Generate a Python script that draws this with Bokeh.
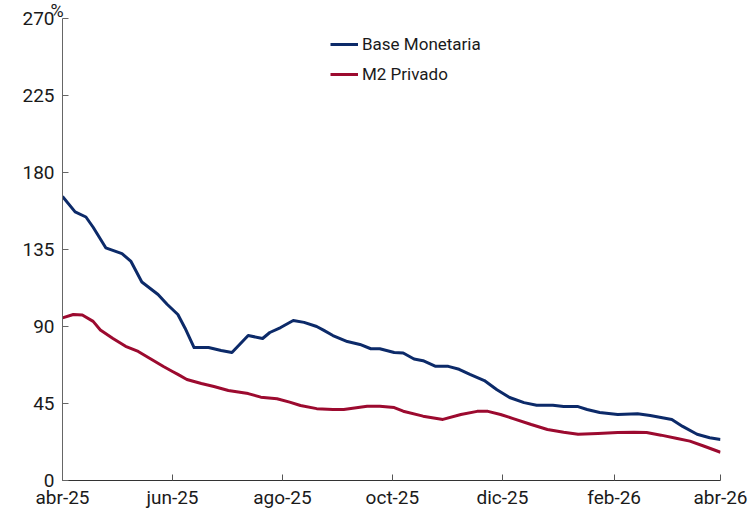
import pandas as pd
from bokeh.plotting import figure
from bokeh.models import FixedTicker, Range1d, Legend, LegendItem, ColumnDataSource
from bokeh.embed import file_html
from bokeh.resources import INLINE

# ---- data ----
base_dates = ["2025-04-01", "2025-04-08", "2025-04-14", "2025-04-18", "2025-04-25", "2025-05-04",
              "2025-05-09", "2025-05-15", "2025-05-24", "2025-05-29", "2025-06-04", "2025-06-08",
              "2025-06-13", "2025-06-21", "2025-06-28", "2025-07-04", "2025-07-13", "2025-07-21",
              "2025-07-25", "2025-07-31", "2025-08-07", "2025-08-13", "2025-08-20", "2025-08-24",
              "2025-08-29", "2025-09-06", "2025-09-13", "2025-09-19", "2025-09-24", "2025-10-02",
              "2025-10-07", "2025-10-13", "2025-10-18", "2025-10-25", "2025-11-01", "2025-11-07",
              "2025-11-13", "2025-11-21", "2025-11-28", "2025-12-05", "2025-12-13", "2025-12-20",
              "2025-12-29", "2026-01-04", "2026-01-12", "2026-01-17", "2026-01-24", "2026-02-03",
              "2026-02-14", "2026-02-21", "2026-02-27", "2026-03-05", "2026-03-11", "2026-03-19",
              "2026-03-26", "2026-04-01"]
base_values = [166, 157, 154, 148, 136, 132.6,
               128, 116, 108.7, 103, 97, 89,
               77.7, 77.7, 76, 74.8, 84.7, 83,
               86.5, 89.4, 93.5, 92.4, 90, 87.7,
               84.7, 81.2, 79.5, 77, 77, 74.8,
               74.5, 71, 70, 66.7, 66.7, 65,
               62, 58.4, 53, 48.5, 45.5, 44,
               44, 43.2, 43.2, 41.5, 39.7, 38.6,
               39, 38, 36.8, 35.7, 31.6, 27,
               25, 24]

m2_dates = ["2025-04-01", "2025-04-07", "2025-04-12", "2025-04-18", "2025-04-22", "2025-04-29",
            "2025-05-06", "2025-05-13", "2025-05-20", "2025-05-27", "2025-06-01", "2025-06-04",
            "2025-06-09", "2025-06-17", "2025-06-24", "2025-07-02", "2025-07-13", "2025-07-20",
            "2025-07-29", "2025-08-05", "2025-08-11", "2025-08-20", "2025-08-29", "2025-09-04",
            "2025-09-12", "2025-09-17", "2025-09-24", "2025-10-02", "2025-10-07", "2025-10-18",
            "2025-10-29", "2025-11-08", "2025-11-17", "2025-11-23", "2025-11-30", "2025-12-07",
            "2025-12-17", "2025-12-26", "2026-01-04", "2026-01-12", "2026-01-23", "2026-02-03",
            "2026-02-12", "2026-02-19", "2026-02-27", "2026-03-08", "2026-03-15", "2026-03-23",
            "2026-04-01"]
m2_values = [95, 97, 96.7, 93, 88, 83,
             78.4, 75.4, 71, 66.6, 63.7, 62,
             59, 56.7, 54.9, 52.6, 50.8, 48.7,
             47.8, 45.8, 43.8, 42, 41.5, 41.5,
             42.6, 43.4, 43.4, 42.6, 40.5, 37.6,
             35.7, 38.6, 40.4, 40.4, 38.6, 36.2,
             32.7, 29.8, 28.2, 27, 27.5, 28,
             28.2, 28, 26.5, 24.5, 23, 20,
             16.5]

tick_dates = ["2025-04-01", "2025-06-01", "2025-08-01", "2025-10-01", "2025-12-01", "2026-02-01", "2026-04-01"]
tick_labels = ["abr-25", "jun-25", "ago-25", "oct-25", "dic-25", "feb-26", "abr-26"]
y_ticks = [0, 45, 90, 135, 180, 225, 270]
unit_label = "%"

series_names = ["Base Monetaria", "M2 Privado"]
series_colors = ["#0c2a69", "#9c0a2f"]

FONT = "Roboto"
TXT = "#1a1a1a"

def ms(d):
    return pd.Timestamp(d).value // 10**6

p = figure(x_axis_type="datetime", output_backend="svg", toolbar_location=None,
           frame_width=658, frame_height=462,
           min_border_left=62, min_border_top=0, min_border_right=28, min_border_bottom=26,
           x_range=Range1d(ms(tick_dates[0]), ms(tick_dates[-1])),
           y_range=Range1d(0, 270))
p.outline_line_color = None
p.xgrid.visible = False
p.ygrid.visible = False
p.background_fill_color = "white"
p.border_fill_color = "white"

# "%" unit label as a left-aligned title just above the y axis
p.title.text = unit_label
p.title.align = "left"
p.title.offset = -12
p.title.standoff = -5
p.title.text_font = FONT
p.title.text_font_size = "18px"
p.title.text_font_style = "normal"
p.title.text_color = TXT
p.title.vertical_align = "bottom"

src_b = ColumnDataSource(dict(x=pd.to_datetime(base_dates), y=base_values))
src_m = ColumnDataSource(dict(x=pd.to_datetime(m2_dates), y=m2_values))
r1 = p.line("x", "y", source=src_b, line_color=series_colors[0], line_width=3, line_join="round")
r2 = p.line("x", "y", source=src_m, line_color=series_colors[1], line_width=3, line_join="round")

# axes
xt = [ms(d) for d in tick_dates]
p.xaxis.ticker = FixedTicker(ticks=xt)
p.xaxis.major_label_overrides = {t: l for t, l in zip(xt, tick_labels)}
p.yaxis.ticker = FixedTicker(ticks=y_ticks)
for ax in (p.xaxis[0], p.yaxis[0]):
    ax.major_tick_in = 6
    ax.major_tick_out = 0
    ax.minor_tick_in = 0
    ax.minor_tick_out = 0
    ax.major_label_text_font = FONT
    ax.major_label_text_font_size = "19px"
    ax.major_label_text_color = TXT
p.xaxis.axis_line_color = "#333333"
p.xaxis.major_tick_line_color = "#555555"
p.yaxis.axis_line_color = "#666666"
p.yaxis.major_tick_line_color = "#666666"
p.xaxis.major_label_standoff = 5
p.yaxis.major_label_standoff = 8

legend = Legend(items=[LegendItem(label=series_names[0], renderers=[r1]),
                       LegendItem(label=series_names[1], renderers=[r2])],
                location=(268, 396))
legend.border_line_color = None
legend.background_fill_alpha = 0
legend.glyph_width = 28
legend.glyph_height = 20
legend.label_height = 20
legend.label_standoff = 4
legend.padding = 0
legend.spacing = 10
legend.label_text_font = FONT
legend.label_text_font_size = "17px"
legend.label_text_color = TXT
p.add_layout(legend)

open("out.html", "w").write(file_html(p, INLINE))
